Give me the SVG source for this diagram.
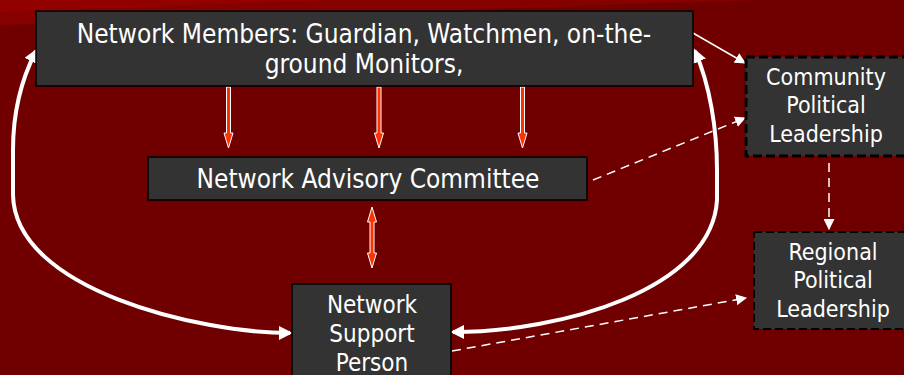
<svg xmlns="http://www.w3.org/2000/svg" width="904" height="375" viewBox="0 0 904 375">
<defs>
<style>
.box{fill:#333333;stroke:#000;stroke-width:1.5}
.dbox{fill:#333333;stroke:#000;stroke-width:3;stroke-dasharray:9 4}
.dbox2{fill:#333333;stroke:#000;stroke-width:2;stroke-dasharray:8 4}
.t{fill:#fff;font-family:"DejaVu Sans Condensed","DejaVu Sans",sans-serif;font-stretch:condensed;font-size:23px;text-anchor:middle}
.big{font-size:26px}
.mid{font-size:24px}
.red{fill:#ff3300;stroke:#fff;stroke-width:1}
.thick{fill:none;stroke:#fff;stroke-width:4}
.thin{fill:none;stroke:#fff;stroke-width:1.5}
.dash{fill:none;stroke:#fff;stroke-width:1.5;stroke-dasharray:9 6}
</style>
<marker id="bigHead" viewBox="0 0 10 10" refX="8" refY="5" markerUnits="userSpaceOnUse" markerWidth="14" markerHeight="14" orient="auto-start-reverse">
<path d="M0,0 L10,5 L0,10 z" fill="#fff"/>
</marker>
<marker id="smallHead" viewBox="0 0 10 10" refX="9" refY="5" markerUnits="userSpaceOnUse" markerWidth="11" markerHeight="11" orient="auto">
<path d="M0,0 L10,5 L0,10 z" fill="#fff"/>
</marker>
</defs>
<rect width="904" height="375" fill="#700000"/>
<polygon points="0,0 760,0 0,25" fill="#870000"/>
<polygon points="0,0 330,0 0,12" fill="#930000"/>

<g id="connectors">
<path class="thick" d="M36,51 C22,78 13,112 13,150 L13,195 C15,290 200,333 290,333" marker-start="url(#bigHead)" marker-end="url(#bigHead)"/>
<path class="thick" d="M695,51 C710,85 717,130 717,170 L717,200 C712,290 560,332 453,332" marker-start="url(#bigHead)" marker-end="url(#bigHead)"/>
<line class="thin" x1="693" y1="33" x2="745" y2="63" marker-end="url(#smallHead)"/>
<line class="dash" x1="593" y1="180" x2="745" y2="118" marker-end="url(#smallHead)"/>
<line class="dash" x1="829" y1="163" x2="829" y2="229" marker-end="url(#smallHead)"/>
<line class="dash" x1="452" y1="351" x2="746" y2="298" marker-end="url(#smallHead)"/>
<polygon class="red" points="226.5,87 230.5,87 230.5,133 233,133 228.5,148 224,133 226.5,133"/>
<polygon class="red" points="377,87 381,87 381,133 383.5,133 379,148 374.5,133 377,133"/>
<polygon class="red" points="520.5,87 524.5,87 524.5,133 527,133 522.5,148 518,133 520.5,133"/>
<polygon class="red" points="372,207 376.5,222 374,222 374,253 376.5,253 372,268 367.5,253 370,253 370,222 367.5,222"/>
</g>

<g id="members">
<rect class="box" x="36" y="11" width="657" height="75"/>
<text class="t big" x="364" y="43">Network Members: Guardian, Watchmen, on-the-</text>
<text class="t big" x="364" y="73">ground Monitors,</text>
</g>

<g id="advisory">
<rect class="box" x="148" y="157" width="439" height="43"/>
<text class="t big" x="368" y="188">Network Advisory Committee</text>
</g>

<g id="support">
<rect class="box" x="292" y="284" width="159" height="95"/>
<text class="t mid" x="372" y="313">Network</text>
<text class="t mid" x="372" y="342">Support</text>
<text class="t mid" x="372" y="371">Person</text>
</g>

<g id="community">
<rect class="dbox" x="746" y="57" width="160" height="99"/>
<text class="t" x="826" y="85">Community</text>
<text class="t" x="826" y="113">Political</text>
<text class="t" x="826" y="142">Leadership</text>
</g>

<g id="regional">
<rect class="dbox2" x="754" y="232" width="152" height="97"/>
<text class="t" x="833" y="260">Regional</text>
<text class="t" x="833" y="288">Political</text>
<text class="t" x="833" y="317">Leadership</text>
</g>
</svg>
